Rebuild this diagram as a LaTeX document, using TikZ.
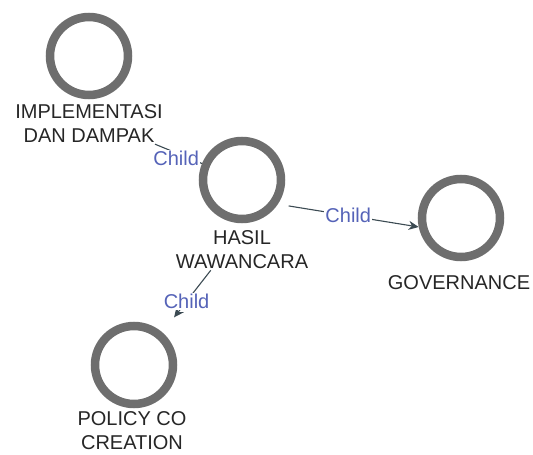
\documentclass[tikz,border=0pt]{standalone}
\usepackage{fontspec}
\setmainfont{Liberation Sans}
\usetikzlibrary{arrows.meta,backgrounds}
\definecolor{ringgray}{HTML}{6E6E6E}
\definecolor{linkgray}{HTML}{3B4A52}
\definecolor{childblue}{HTML}{5563B8}
\begin{document}
\begin{tikzpicture}[x=1pt,y=-1pt]\tikzstyle{every node}=[font=\fontsize{20}{24}\selectfont]
\tikzstyle{ring}=[circle, draw=ringgray, line width=8.5pt, minimum size=78pt, inner sep=0pt]
\tikzstyle{tag}=[align=center, inner sep=1pt, text=black!85]
\tikzstyle{linkline}=[draw=linkgray, line width=1.1pt]
\tikzstyle{childlbl}=[text=childblue, fill=white, inner sep=1pt]
\useasboundingbox (0,0) rectangle (533,455);
% implementasi dan dampak
  \node[ring] (impl) at (89,56) {};
  \node[tag] (implL) at (89,124) {IMPLEMENTASI\\DAN DAMPAK};
% hasil wawancara
  \node[ring] (hasil) at (242,180) {};
  \node[tag] (hasilL) at (242,250) {HASIL\\WAWANCARA};
% governance
  \node[ring] (gov) at (461,218) {};
  \node[tag] (govL) at (459,283) {GOVERNANCE};
% policy co creation
  \node[ring] (policy) at (134,365) {};
  \node[tag] (policyL) at (132,431) {POLICY CO\\CREATION};
%%%%%%%%%%%%%%%%
\begin{pgfonlayer}{background}
\draw[linkline] (implL.-17) -- node[childlbl, pos=0.45, yshift=-5pt] {Child} (hasil);
\draw[linkline, -{Stealth[length=10pt,width=9pt]}, shorten <=11pt] (hasil.-34) -- node[childlbl, midway] {Child} (gov.192);
\draw[linkline, -{Stealth[length=10pt,width=9pt]}, shorten >=19pt] (hasilL.213) -- node[childlbl, midway] {Child} (policy.49);
\end{pgfonlayer}
\end{tikzpicture}
\end{document}
